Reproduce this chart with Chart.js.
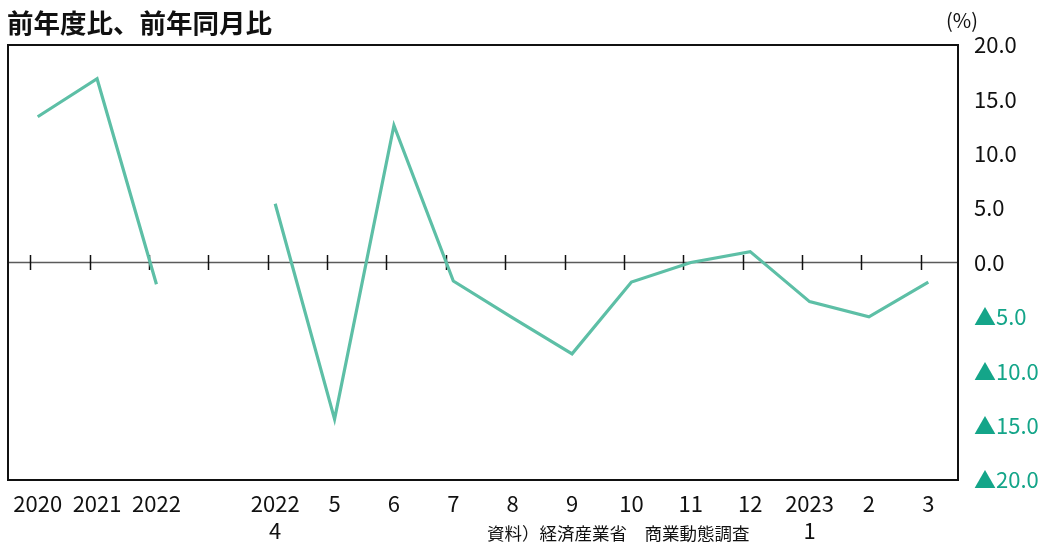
<!DOCTYPE html>
<html lang="ja">
<head>
<meta charset="utf-8">
<title>前年度比、前年同月比</title>
<script src="https://cdn.jsdelivr.net/npm/chart.js@4/dist/chart.umd.min.js"></script>
<style>
  html, body { margin: 0; padding: 0; background: #fff; }
  #wrap { width: 1042px; height: 545px; }
</style>
</head>
<body>
<div id="wrap"><canvas id="c" width="1042" height="545"></canvas></div>
<script>
// Fiscal years, then monthly figures (Apr 2022 – Mar 2023); blank slot separates the two groups
const categories = ['2020', '2021', '2022', '', ['2022', '4'], '5', '6', '7', '8', '9', '10', '11', '12', ['2023', '1'], '2', '3'];
const changeRate = [13.4, 16.9, -2.0, null, 5.4, -14.4, 12.6, -1.7, -5.1, -8.4, -1.8, 0.0, 1.0, -3.6, -5.0, -1.8];
const yTicks = [-20, -15, -10, -5, 0, 5, 10, 15, 20];

const titleText = '前年度比、前年同月比';
const unitText = '(%)';
const sourceText = '資料）経済産業省　商業動態調査';

const FONT = '"Noto Sans CJK JP", "Noto Sans", sans-serif';
const LINE_COLOR = '#5dbfa6';
const NEG_COLOR = '#14a589';

const decor = {
  id: 'decor',
  beforeDraw(chart) {
    const { ctx } = chart;
    ctx.save();
    ctx.fillStyle = '#fff';
    ctx.fillRect(0, 0, chart.width, chart.height);
    ctx.restore();
  },
  beforeDatasetsDraw(chart) {
    const { ctx, chartArea: a, scales } = chart;
    const y0 = scales.y.getPixelForValue(0);
    ctx.save();
    // zero baseline
    ctx.strokeStyle = '#5a5a5a';
    ctx.lineWidth = 1.5;
    ctx.beginPath();
    ctx.moveTo(a.left, y0);
    ctx.lineTo(a.right, y0);
    ctx.stroke();
    // small tick marks along the baseline
    ctx.strokeStyle = '#111';
    ctx.lineWidth = 1.5;
    categories.forEach((_, i) => {
      const x = Math.round(scales.x.getPixelForValue(i) - 7.5) + 0.5;
      ctx.beginPath();
      ctx.moveTo(x, y0 - 7.5);
      ctx.lineTo(x, y0 + 7.5);
      ctx.stroke();
    });
    ctx.restore();
  },
  afterDraw(chart) {
    const { ctx, chartArea: a } = chart;
    ctx.save();
    // plot frame
    ctx.strokeStyle = '#111';
    ctx.lineWidth = 2;
    ctx.strokeRect(a.left, a.top, a.right - a.left, a.bottom - a.top);
    // title
    ctx.fillStyle = '#111';
    ctx.textBaseline = 'middle';
    ctx.textAlign = 'left';
    ctx.font = 'bold 26.5px ' + FONT;
    ctx.fillText(titleText, 7, 23);
    // unit
    ctx.font = '20px ' + FONT;
    ctx.textAlign = 'center';
    ctx.fillText(unitText, 962, 20);
    // source note
    ctx.font = '17.5px ' + FONT;
    ctx.textAlign = 'left';
    ctx.fillText(sourceText, 487, 533);
    ctx.restore();
  }
};

new Chart(document.getElementById('c'), {
  type: 'line',
  data: {
    labels: categories,
    datasets: [{
      data: changeRate,
      borderColor: LINE_COLOR,
      borderWidth: 3.2,
      pointRadius: 0,
      pointHoverRadius: 0,
      spanGaps: false,
      tension: 0,
      fill: false
    }]
  },
  options: {
    responsive: false,
    animation: false,
    devicePixelRatio: 1,
    layout: { padding: { top: 45, left: 8, right: 0, bottom: 0 } },
    plugins: { legend: { display: false }, tooltip: { enabled: false }, title: { display: false } },
    scales: {
      x: {
        type: 'category',
        offset: true,
        grid: { display: false, drawTicks: false },
        border: { display: false },
        ticks: {
          autoSkip: false,
          maxRotation: 0,
          minRotation: 0,
          padding: 10,
          color: '#111',
          font: { family: FONT, size: 22, lineHeight: 1.22 }
        },
        afterFit(scale) { scale.height = 65; }
      },
      y: {
        position: 'right',
        min: -20,
        max: 20,
        afterBuildTicks(scale) { scale.ticks = yTicks.map(v => ({ value: v })); },
        grid: { display: false, drawTicks: false },
        border: { display: false },
        ticks: {
          padding: 16,
          crossAlign: 'near',
          color: (c) => (c.tick && c.tick.value < 0 ? NEG_COLOR : '#111'),
          font: { family: FONT, size: 22 },
          callback: (v) => (v < 0 ? '▲' + Math.abs(v).toFixed(1) : v.toFixed(1))
        },
        afterFit(scale) { scale.width = 84; }
      }
    }
  },
  plugins: [decor]
});
</script>
</body>
</html>
